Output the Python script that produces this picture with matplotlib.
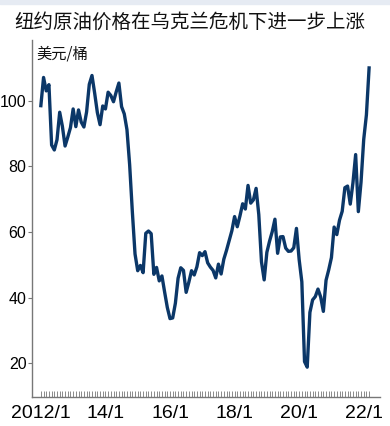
import matplotlib.pyplot as plt
import matplotlib.patches as mpatches
from matplotlib.ticker import FixedLocator
from matplotlib import font_manager

# month-end WTI price, 2012/1 .. 2022/3 (USD / barrel)
p2012 = [98.5, 107.1, 103.0, 104.9, 86.5, 85.0, 88.1, 96.5, 92.2, 86.2, 88.9, 91.8]
p2013 = [97.5, 92.1, 97.2, 93.5, 92.0, 96.6, 105.0, 107.7, 102.3, 96.4, 92.7, 98.4]
p2014 = [97.5, 102.6, 101.6, 99.7, 102.7, 105.4, 98.2, 96.0, 91.2, 80.5, 66.2, 53.3]
p2015 = [48.2, 49.8, 47.6, 59.6, 60.3, 59.5, 47.1, 49.2, 45.1, 46.6, 41.7, 37.0]
p2016 = [33.6, 33.8, 38.3, 45.9, 49.1, 48.3, 41.6, 44.7, 48.2, 46.9, 49.4, 53.7]
p2017 = [52.8, 54.0, 50.6, 49.3, 48.3, 46.0, 50.2, 47.2, 51.7, 54.4, 57.4, 60.4]
p2018 = [64.7, 61.6, 64.9, 68.6, 67.0, 74.2, 68.8, 69.8, 73.3, 65.3, 50.9, 45.4]
p2019 = [53.8, 57.2, 60.1, 63.9, 53.5, 58.5, 58.6, 55.1, 54.1, 54.2, 55.2, 61.1]
p2020 = [51.6, 44.8, 20.5, 18.8, 35.5, 39.3, 40.3, 42.6, 40.2, 35.8, 45.3, 48.5]
p2021 = [52.2, 61.5, 59.2, 63.6, 66.3, 73.5, 74.0, 68.5, 75.0, 83.6, 66.2, 75.2]
p2022 = [88.2, 95.7, 110.0]

prices = p2012 + p2013 + p2014 + p2015 + p2016 + p2017 + p2018 + p2019 + p2020 + p2021 + p2022
months = list(range(len(prices)))  # 0 = 2012/1

xtick_pos = [0, 24, 48, 72, 96, 120]
xtick_labels = ['2012/1', '14/1', '16/1', '18/1', '20/1', '22/1']
ytick_pos = [20, 40, 60, 80, 100]

names = {f.name for f in font_manager.fontManager.ttflist}
num_font = 'Liberation Sans Narrow' if 'Liberation Sans Narrow' in names else 'Liberation Sans'
cjk = ['Noto Sans CJK SC', 'DejaVu Sans']

fig = plt.figure(figsize=(3.9, 4.26), dpi=100)
fig.patches.append(mpatches.Rectangle((0, 0.99), 1, 0.01, transform=fig.transFigure,
                                      color='#e6ebf3', zorder=0))

ax = fig.add_axes([0.082, 0.068, 0.892, 0.838])
ax.plot(months, prices, color='#0b3768', lw=2.4, solid_joinstyle='round')

ax.set_xlim(-3.3, 126)
ax.set_ylim(9.7, 118.5)

for s in ['top', 'right']:
    ax.spines[s].set_visible(False)
for s in ['left', 'bottom']:
    ax.spines[s].set_color('#777777')
    ax.spines[s].set_linewidth(1.0)

ax.xaxis.set_major_locator(FixedLocator(xtick_pos))
ax.xaxis.set_minor_locator(FixedLocator(months))
ax.set_xticklabels(xtick_labels, fontsize=14, family=num_font)
ax.tick_params(axis='x', which='both', direction='in', length=4, width=0.6,
               color='#777777', pad=6)

ax.set_yticks(ytick_pos)
ax.set_yticklabels([str(v) for v in ytick_pos], fontsize=11.5, family=num_font)
ax.tick_params(axis='y', direction='out', length=3, width=0.8, color='#777777', pad=1)

fig.text(0.038, 0.948, '纽约原油价格在乌克兰危机下进一步上涨', fontsize=14,
         family=cjk, va='center', ha='left', color='#111111')
fig.text(0.094, 0.873, '美元/桶', fontsize=11, family=cjk, va='center', ha='left',
         color='#111111')

fig.savefig('out.png', dpi=100)
